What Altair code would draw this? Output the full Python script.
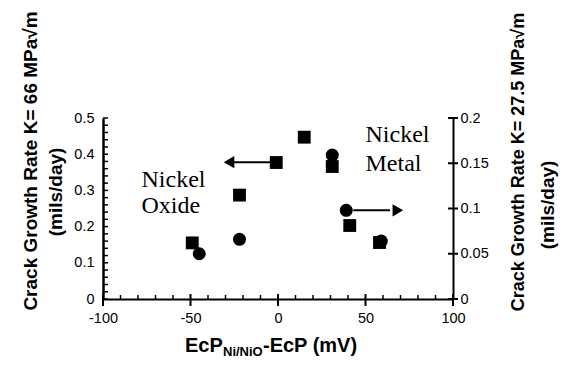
import altair as alt
import pandas as pd

# Data
sq_x = [-49, -22, -1, 15, 31, 41, 58]           # Nickel oxide side (left axis, K=66)
sq_y = [0.155, 0.287, 0.377, 0.447, 0.366, 0.203, 0.156]
ci_x = [-45, -22, 31, 39, 59]                    # right axis (K=27.5)
ci_y = [0.050, 0.066, 0.159, 0.098, 0.064]

x_major = [-100, -50, 0, 50, 100]
x_minor = [v for v in range(-90, 100, 10) if v % 50 != 0]
yl_ticks = [0, 0.1, 0.2, 0.3, 0.4, 0.5]
yl_minor = [round(i * 0.02, 2) for i in range(0, 26)]
yr_ticks = [0, 0.05, 0.1, 0.15, 0.2]

# arrows: (x start, x end, y) ; heads: (x, y)
arrow_left = {"x": [-26], "x2": [-1], "y": [0.378]}
head_left = {"x": [-28], "y": [0.378]}
arrow_right = {"x": [43], "x2": [64], "y": [0.098]}
head_right = {"x": [68.5], "y": [0.098]}

notes_x = [-78, -78, 50, 50]
notes_y = [0.309, 0.238, 0.434, 0.354]
notes_t = ["Nickel", "Oxide", "Nickel", "Metal"]

W, H = 350, 181

xs = alt.Scale(domain=[-100, 100], nice=False, zero=False)
yls = alt.Scale(domain=[0, 0.5], nice=False)
yrs = alt.Scale(domain=[0, 0.2], nice=False)

LAB = dict(labelFont="Liberation Sans", labelFontSize=14.5, labelColor="black",
           domainColor="black", ticks=False, grid=False, title=None,
           labelFlush=False, labelExpr="datum.value + ''")
xaxis = alt.Axis(values=x_major, labelPadding=12, domainWidth=2, **LAB)
laxis = alt.Axis(values=yl_ticks, orient="left", labelPadding=9, domainWidth=2.5, **LAB)
raxis = alt.Axis(values=yr_ticks, orient="right", labelPadding=7, domainWidth=2, **LAB)

X = lambda f="x": alt.X(f"{f}:Q", scale=xs, axis=xaxis)
YL = alt.Y("y:Q", scale=yls, axis=laxis)
YR = alt.Y("y:Q", scale=yrs, axis=raxis)

squares = alt.Chart(pd.DataFrame({"x": sq_x, "y": sq_y})).mark_square(
    size=165, color="black", opacity=1).encode(x=X(), y=YL)

l_line = alt.Chart(pd.DataFrame(arrow_left)).mark_rule(color="black", strokeWidth=2).encode(
    x=X(), x2="x2:Q", y=YL)
l_head = alt.Chart(pd.DataFrame(head_left)).mark_point(
    shape="triangle-left", filled=True, size=150, color="black", opacity=1).encode(x=X(), y=YL)

notes = alt.Chart(pd.DataFrame({"x": notes_x, "y": notes_y, "t": notes_t})).mark_text(
    font="Liberation Serif", fontSize=24, align="left", baseline="alphabetic", color="black"
).encode(x=X(), y=YL, text="t:N")

xminor = alt.Chart(pd.DataFrame({"x": x_minor})).mark_rule(color="black", strokeWidth=1.5).encode(
    x=X(), y=alt.value(H), y2=alt.value(H - 4))
xmajor = alt.Chart(pd.DataFrame({"x": x_major})).mark_rule(color="black", strokeWidth=2).encode(
    x=X(), y=alt.value(H - 5), y2=alt.value(H + 7))
lminor = alt.Chart(pd.DataFrame({"y": yl_minor})).mark_rule(color="black", strokeWidth=1.5).encode(
    y=YL, x=alt.value(0), x2=alt.value(5))

TF = dict(font="Liberation Sans", fontWeight="bold", color="black")
tl1 = alt.Chart().mark_text(text="Crack Growth Rate K= 66 MPa√m", angle=270, fontSize=19,
                            align="center", baseline="middle", **TF).encode(
    x=alt.value(-72), y=alt.value(43))
tl2 = alt.Chart().mark_text(text="(mils/day)", angle=270, fontSize=19,
                            align="center", baseline="middle", **TF).encode(
    x=alt.value(-47), y=alt.value(74))
tr1 = alt.Chart().mark_text(text="Crack Growth Rate K= 27.5 MPa√m", angle=270, fontSize=18,
                            align="center", baseline="middle", **TF).encode(
    x=alt.value(416), y=alt.value(44))
tr2 = alt.Chart().mark_text(text="(mils/day)", angle=270, fontSize=19,
                            align="center", baseline="middle", **TF).encode(
    x=alt.value(445), y=alt.value(87))
tx1 = alt.Chart().mark_text(text="EcP", fontSize=20, align="left", baseline="alphabetic", **TF).encode(
    x=alt.value(82), y=alt.value(234))
tx2 = alt.Chart().mark_text(text="Ni/NiO", fontSize=13, align="left", baseline="alphabetic", **TF).encode(
    x=alt.value(120), y=alt.value(238))
tx3 = alt.Chart().mark_text(text="-EcP (mV)", fontSize=20, align="left", baseline="alphabetic", **TF).encode(
    x=alt.value(160), y=alt.value(234))

left = alt.layer(xminor, xmajor, lminor, l_line, l_head, squares, notes,
                 tl1, tl2, tr1, tr2, tx1, tx2, tx3)

circles = alt.Chart(pd.DataFrame({"x": ci_x, "y": ci_y})).mark_circle(
    size=170, color="black", opacity=1).encode(x=X(), y=YR)
r_line = alt.Chart(pd.DataFrame(arrow_right)).mark_rule(color="black", strokeWidth=2).encode(
    x=X(), x2="x2:Q", y=YR)
r_head = alt.Chart(pd.DataFrame(head_right)).mark_point(
    shape="triangle-right", filled=True, size=150, color="black", opacity=1).encode(x=X(), y=YR)
rticks = alt.Chart(pd.DataFrame({"y": yr_ticks})).mark_rule(color="black", strokeWidth=2).encode(
    y=YR, x=alt.value(W - 5), x2=alt.value(W + 5))

right = alt.layer(rticks, r_line, r_head, circles)

chart = alt.layer(left, right).resolve_scale(y="independent").properties(
    width=W, height=H,
    padding={"left": 95, "top": 110, "right": 118, "bottom": 74},
    autosize=alt.AutoSizeParams(type="none"),
    background="white",
).configure_view(stroke=None)

chart.save("out.html", embed_options={"renderer": "svg", "actions": False})
